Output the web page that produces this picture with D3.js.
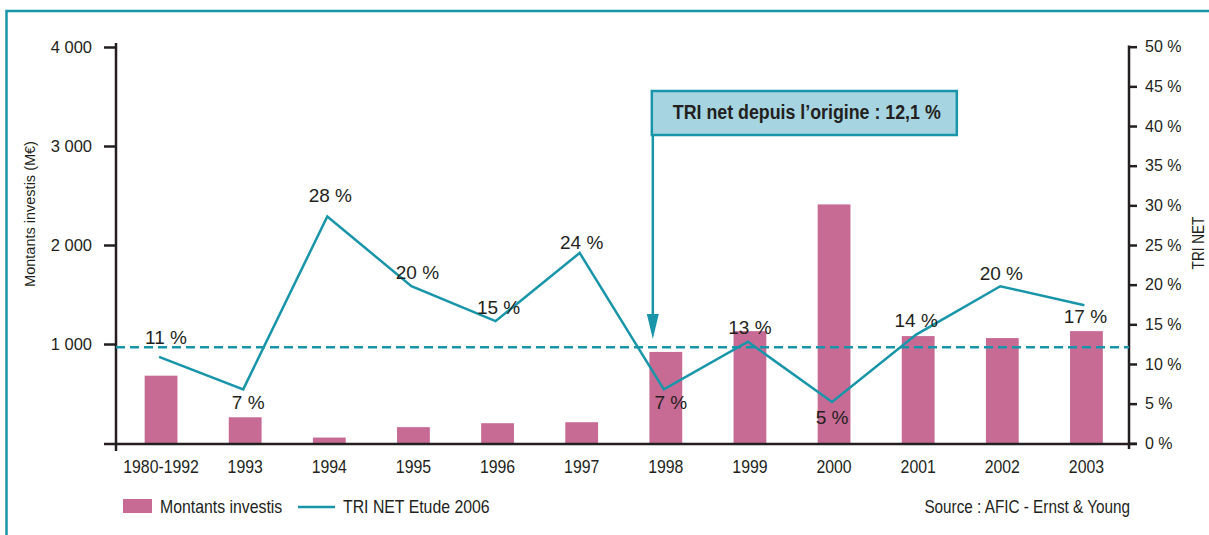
<!DOCTYPE html>
<html>
<head>
<meta charset="utf-8">
<script src="https://cdn.jsdelivr.net/npm/d3@7"></script>
<style>
  body { margin: 0; background: #fff; }
  text { font-family: "Liberation Sans", Arial, sans-serif; fill: #231f20; }
</style>
</head>
<body>
<div id="chart"></div>
<script>
// data
var categories = ["1980-1992", "1993", "1994", "1995", "1996", "1997", "1998", "1999", "2000", "2001", "2002", "2003"];
var montants = [680, 260, 55, 160, 200, 210, 920, 1130, 2410, 1080, 1060, 1130];
var tri = [10.9, 6.8, 28.6, 19.8, 15.4, 24.0, 6.8, 12.8, 5.2, 13.7, 19.8, 17.4];
var triLabels = ["11 %", "7 %", "28 %", "20 %", "15 %", "24 %", "7 %", "13 %", "5 %", "14 %", "20 %", "17 %"];
var leftTicks = [1000, 2000, 3000, 4000];
var rightTicks = [0, 5, 10, 15, 20, 25, 30, 35, 40, 45, 50];
var triOrigine = 12.1;

// label placement around each point (layout only)
var labelDx = [5, 3, 1, 4, 1, 0, 5, 0, -2, -2, -1, -1];
var labelDy = [-13, 20, -14, -7, -7, -4, 20, -8, 22, -8, -6, 18];

var svgWidth = 1209, svgHeight = 535;
var teal = "#1895a9", pink = "#c76b95", ink = "#231f20";

var svg = d3.select("#chart").append("svg")
  .attr("width", svgWidth)
  .attr("height", svgHeight);

// squeeze text horizontally to mimic the condensed face of the original
function narrow(sel, k) {
  sel.each(function () {
    var t = d3.select(this);
    var x0 = +t.attr("x") || 0;
    t.attr("x", x0 / k);
    t.attr("transform", (t.attr("transform") || "") + " scale(" + k + ",1)");
  });
}

// frame
svg.append("rect")
  .attr("x", 6.5).attr("y", 11)
  .attr("width", 1300).attr("height", 700)
  .attr("fill", "none")
  .attr("stroke", teal)
  .attr("stroke-width", 2.5);

var x = d3.scaleBand()
  .domain(categories)
  .range([119, 1128.5])
  .paddingInner(0.61)
  .paddingOuter(0.305);
var cx = function (i) { return x(categories[i]) + x.bandwidth() / 2; };

var yLeft = d3.scaleLinear().domain([0, 4000]).range([443, 47]);
var yRight = d3.scaleLinear().domain([0, 50]).range([443.3, 46.7]);

var fr = d3.formatLocale({ decimal: ",", thousands: " ", grouping: [3], currency: ["", " €"] });

// bars
svg.append("g")
  .selectAll("rect")
  .data(montants)
  .enter()
  .append("rect")
    .attr("x", function (d, i) { return x(categories[i]); })
    .attr("y", function (d) { return yLeft(d); })
    .attr("width", x.bandwidth())
    .attr("height", function (d) { return yLeft(0) - yLeft(d); })
    .attr("fill", pink);

// left axis
var leftAxis = svg.append("g")
  .attr("transform", "translate(116,0)")
  .call(d3.axisLeft(yLeft).tickValues(leftTicks).tickSize(12).tickSizeOuter(0).tickPadding(12).tickFormat(fr.format(",")));
leftAxis.select(".domain").remove();
leftAxis.append("line").attr("y1", 43).attr("y2", 451);
leftAxis.selectAll("line").attr("stroke", ink).attr("stroke-width", 2.5);
leftAxis.selectAll("text").attr("font-size", 16.5).attr("fill", ink).attr("font-family", null);

// right axis
var rightAxis = svg.append("g")
  .attr("transform", "translate(1129,0)")
  .call(d3.axisRight(yRight).tickValues(rightTicks).tickSize(8).tickSizeOuter(0).tickPadding(8)
    .tickFormat(function (d) { return d + " %"; }));
rightAxis.select(".domain").remove();
rightAxis.append("line").attr("y1", 45.5).attr("y2", 449);
rightAxis.selectAll("line").attr("stroke", ink).attr("stroke-width", 2.5);
rightAxis.selectAll("text").attr("font-size", 16).attr("fill", ink).attr("font-family", null);

// bottom axis
var bottomAxis = svg.append("g")
  .attr("transform", "translate(0,444)")
  .call(d3.axisBottom(x).tickSize(0).tickPadding(16));
bottomAxis.select(".domain").remove();
bottomAxis.append("line").attr("x1", 104).attr("x2", 1137)
  .attr("stroke", ink).attr("stroke-width", 2.5);
bottomAxis.selectAll("text").attr("font-size", 18).attr("fill", ink).attr("font-family", null)
  .call(narrow, 0.88);

// axis titles
svg.append("text")
  .attr("transform", "translate(35,214) rotate(-90)")
  .attr("text-anchor", "middle")
  .attr("font-size", 14.5)
  .text("Montants investis (M€)");

svg.append("text")
  .attr("transform", "translate(1204,243) rotate(-90)")
  .attr("text-anchor", "middle")
  .attr("font-size", 17)
  .text("TRI NET")
  .call(narrow, 0.8);

// TRI since origin (dashed)
svg.append("line")
  .attr("x1", 116).attr("x2", 1129)
  .attr("y1", yRight(triOrigine)).attr("y2", yRight(triOrigine))
  .attr("stroke", teal)
  .attr("stroke-width", 2.5)
  .attr("stroke-dasharray", "9,5");

// TRI line
var line = d3.line()
  .x(function (d, i) { return cx(i) - 2; })
  .y(function (d) { return yRight(d); });

svg.append("path")
  .datum(tri)
  .attr("d", line)
  .attr("fill", "none")
  .attr("stroke", teal)
  .attr("stroke-width", 2.5);

svg.append("g")
  .selectAll("text")
  .data(tri)
  .enter()
  .append("text")
    .text(function (d, i) { return triLabels[i]; })
    .attr("x", function (d, i) { return cx(i) + labelDx[i]; })
    .attr("y", function (d, i) { return yRight(d) + labelDy[i]; })
    .attr("text-anchor", "middle")
    .attr("font-size", 19);

// annotation box + arrow
var annX = cx(6) - 13;
svg.append("line")
  .attr("x1", annX).attr("x2", annX)
  .attr("y1", 134).attr("y2", 320)
  .attr("stroke", teal).attr("stroke-width", 2.5);
svg.append("path")
  .attr("d", "M" + (annX - 6) + ",314L" + (annX + 6) + ",314L" + annX + ",339Z")
  .attr("fill", teal);

svg.append("rect")
  .attr("x", annX - 1).attr("y", 91)
  .attr("width", 305).attr("height", 44)
  .attr("fill", "#a6d5e1")
  .attr("stroke", teal)
  .attr("stroke-width", 2.5);
svg.append("text")
  .attr("x", annX + 20).attr("y", 119.5)
  .attr("font-size", 20)
  .attr("font-weight", "bold")
  .text("TRI net depuis l\u2019origine : 12,1 %")
  .call(narrow, 0.89);

// legend
svg.append("rect")
  .attr("x", 123).attr("y", 499)
  .attr("width", 29).attr("height", 14)
  .attr("fill", pink);
svg.append("text")
  .attr("x", 160).attr("y", 513)
  .attr("font-size", 18)
  .text("Montants investis")
  .call(narrow, 0.88);
svg.append("line")
  .attr("x1", 298).attr("x2", 335)
  .attr("y1", 507).attr("y2", 507)
  .attr("stroke", teal).attr("stroke-width", 2.5);
svg.append("text")
  .attr("x", 343).attr("y", 513)
  .attr("font-size", 18)
  .text("TRI NET Etude 2006")
  .call(narrow, 0.88);

svg.append("text")
  .attr("x", 1130).attr("y", 513)
  .attr("text-anchor", "end")
  .attr("font-size", 18)
  .text("Source : AFIC - Ernst & Young")
  .call(narrow, 0.85);
</script>
</body>
</html>
